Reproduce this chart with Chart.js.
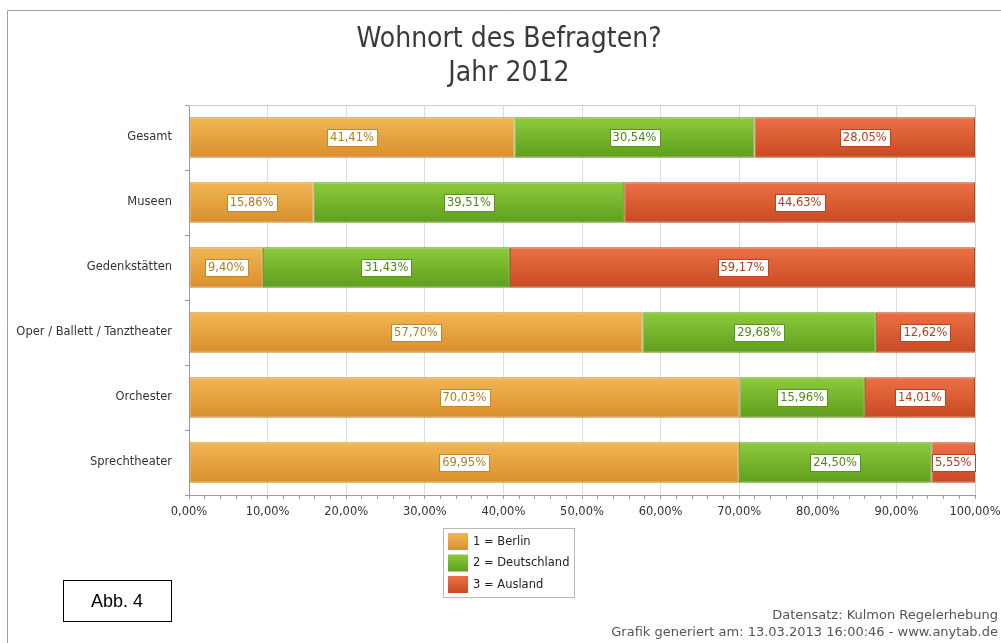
<!DOCTYPE html>
<html>
<head>
<meta charset="utf-8">
<script src="https://cdn.jsdelivr.net/npm/chart.js@4"></script>
<style>
  html, body { margin: 0; padding: 0; background: #fff; }
  #wrap { width: 1001px; height: 643px; position: relative; }
</style>
</head>
<body>
<div id="wrap"><canvas id="myChart" width="1001" height="643"></canvas></div>
<script>
// Daten
const kategorien = ["Gesamt", "Museen", "Gedenkstätten", "Oper / Ballett / Tanztheater", "Orchester", "Sprechtheater"]
const berlin = [41.41, 15.86, 9.40, 57.70, 70.03, 69.95]
const deutschland = [30.54, 39.51, 31.43, 29.68, 15.96, 24.50]
const ausland = [28.05, 44.63, 59.17, 12.62, 14.01, 5.55]
const serienNamen = ["1 = Berlin", "2 = Deutschland", "3 = Ausland"]
const titel = ["Wohnort des Befragten?", "Jahr 2012"]
const fussText = ["Datensatz: Kulmon Regelerhebung", "Grafik generiert am: 13.03.2013 16:00:46 - www.anytab.de"]

const farben = [
  {oben: "#F2B655", unten: "#D98F2B", rand: "#C8852A", text: "#B27D22"},
  {oben: "#8DCA3C", unten: "#5E9F1C", rand: "#589419", text: "#4C8A16"},
  {oben: "#EC7046", unten: "#C94A22", rand: "#B8441E", text: "#B23F1C"}
]

const schrift = "'DejaVu Sans', Verdana, sans-serif"
const fmt = (v) => v.toFixed(2).replace(".", ",") + "%"

const verlauf = (idx) => (ctx) => {
  const chart = ctx.chart
  const y = chart.scales && chart.scales.y
  if (!y || ctx.dataIndex === undefined) return farben[idx].unten
  const yc = y.getPixelForValue(ctx.dataIndex)
  if (!isFinite(yc)) return farben[idx].unten
  const g = chart.ctx.createLinearGradient(0, yc - 20, 0, yc + 20)
  g.addColorStop(0, farben[idx].oben)
  g.addColorStop(1, farben[idx].unten)
  return g
}

const rahmenPlugin = {
  id: "rahmen",
  beforeDraw(chart) {
    const c = chart.ctx
    c.save()
    c.fillStyle = "#fff"
    c.fillRect(0, 0, chart.width, chart.height)
    c.strokeStyle = "#a0a0a0"
    c.lineWidth = 1
    c.beginPath()
    c.moveTo(7.5, 643)
    c.lineTo(7.5, 10.5)
    c.lineTo(1001, 10.5)
    c.stroke()
    // Titel
    c.fillStyle = "#3a3a3a"
    c.font = "28px 'DejaVu Sans Condensed', 'DejaVu Sans', sans-serif"
    c.textAlign = "center"
    c.textBaseline = "middle"
    c.fillText(titel[0], 509, 40)
    c.fillText(titel[1], 509, 74)
    c.restore()
  },
  afterDraw(chart) {
    const c = chart.ctx
    const a = chart.chartArea
    c.save()
    c.strokeStyle = "#cfcfcf"
    c.lineWidth = 1
    c.beginPath()
    c.moveTo(a.left, a.top + 0.5)
    c.lineTo(a.right + 0.5, a.top + 0.5)
    c.lineTo(a.right + 0.5, a.bottom)
    c.stroke()

    // Werte-Labels
    c.font = "11.5px " + schrift
    c.textAlign = "center"
    c.textBaseline = "middle"
    chart.data.datasets.forEach((ds, di) => {
      const meta = chart.getDatasetMeta(di)
      meta.data.forEach((bar, i) => {
        const txt = fmt(ds.data[i])
        const x = (bar.x + bar.base) / 2
        const y = bar.y
        const w = c.measureText(txt).width + 6
        const h = 17
        c.fillStyle = "#fff"
        c.fillRect(Math.round(x - w / 2) + 0.5, Math.round(y - h / 2) + 0.5, Math.round(w), h)
        c.strokeStyle = farben[di].rand
        c.strokeRect(Math.round(x - w / 2) + 0.5, Math.round(y - h / 2) + 0.5, Math.round(w), h)
        c.fillStyle = farben[di].text
        c.fillText(txt, x, y + 1)
      })
    })

    // Legende
    c.fillStyle = "#fff"
    c.fillRect(443.5, 528.5, 131, 69)
    c.strokeStyle = "#b8b8b8"
    c.strokeRect(443.5, 528.5, 131, 69)
    c.textAlign = "left"
    c.font = "11.5px " + schrift
    serienNamen.forEach((name, i) => {
      const y0 = 533 + i * 21.5
      const g = c.createLinearGradient(0, y0, 0, y0 + 17)
      g.addColorStop(0, farben[i].oben)
      g.addColorStop(1, farben[i].unten)
      c.fillStyle = g
      c.fillRect(448, y0, 20, 17)
      c.fillStyle = "#222"
      c.fillText(name, 473, y0 + 9)
    })

    // Abb. 4
    c.strokeStyle = "#000"
    c.strokeRect(63.5, 580.5, 108, 41)
    c.fillStyle = "#000"
    c.font = "18px 'Liberation Sans', Arial, sans-serif"
    c.textAlign = "center"
    c.fillText("Abb. 4", 117, 602)

    // Fusszeile
    c.fillStyle = "#555"
    c.font = "13px " + schrift
    c.textAlign = "right"
    c.fillText(fussText[0], 998, 616)
    c.fillText(fussText[1], 998, 633)
    c.restore()
  }
}

const ctx = document.getElementById("myChart").getContext("2d")
const myChart = new Chart(ctx, {
  type: "bar",
  data: {
    labels: kategorien,
    datasets: [berlin, deutschland, ausland].map((werte, i) => ({
      label: serienNamen[i],
      data: werte,
      backgroundColor: verlauf(i),
      borderColor: farben[i].rand,
      borderWidth: 1,
      borderSkipped: false,
      barPercentage: 0.62,
      categoryPercentage: 1
    }))
  },
  options: {
    indexAxis: "y",
    responsive: false,
    animation: false,
    layout: { padding: { left: 8, top: 105, right: 26, bottom: 118 }, autoPadding: false },
    plugins: {
      legend: { display: false },
      title: { display: false },
      tooltip: { enabled: false }
    },
    scales: {
      x: {
        stacked: true,
        min: 0,
        max: 100,
        afterFit: (s) => { s.height = 30; s.paddingLeft = 0; s.paddingRight = 0 },
        border: { color: "#9a9aa8" },
        grid: {
          color: (c) => (c.tick && c.tick.value % 10 === 0 && c.tick.value > 0 && c.tick.value < 100) ? "#dcdce6" : "rgba(0,0,0,0)",
          tickColor: "#9a9aa8",
          tickLength: 4
        },
        ticks: {
          stepSize: 2,
          autoSkip: false,
          maxRotation: 0,
          padding: 6,
          color: "#333",
          font: { size: 11.5, family: schrift },
          callback: (v) => (v % 10 === 0 ? fmt(v) : "")
        }
      },
      y: {
        stacked: true,
        afterFit: (s) => { s.width = 181; s.paddingTop = 0; s.paddingBottom = 0 },
        border: { color: "#9a9aa8" },
        grid: { drawOnChartArea: false, tickColor: "#9a9aa8", tickLength: 4, offset: true },
        ticks: {
          color: "#333",
          padding: 13,
          font: { size: 11.5, family: schrift }
        }
      }
    }
  },
  plugins: [rahmenPlugin]
})
</script>
</body>
</html>
